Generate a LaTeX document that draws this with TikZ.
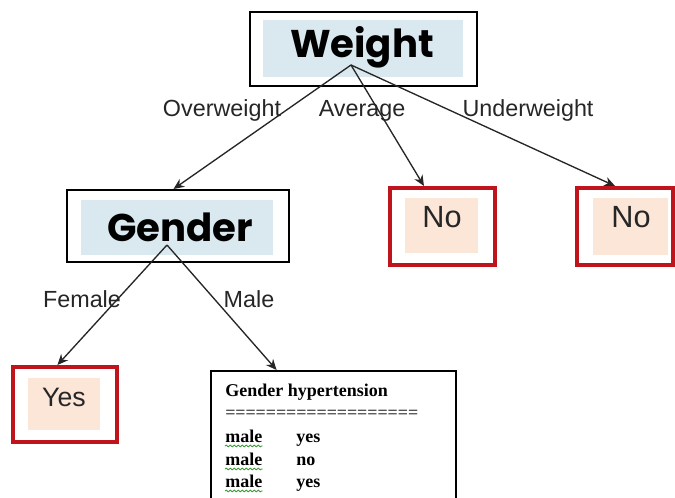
\documentclass[tikz,border=0pt]{standalone}
\usepackage{fontspec}
\setmainfont{Liberation Sans}
\newfontfamily\titlefont{Poppins}
\newfontfamily\tablefont{Liberation Serif}
\usetikzlibrary{arrows.meta,calc,decorations.pathmorphing}

\definecolor{boxblue}{HTML}{DAE9F0}
\definecolor{boxpeach}{HTML}{FBE6D8}
\definecolor{leafred}{HTML}{C0141C}
\definecolor{squiggle}{HTML}{3C9A3C}

\tikzset{
  frame/.style={draw=black, line width=1.5pt, fill=white, inner sep=0pt},
  leafframe/.style={draw=leafred, line width=3pt, fill=white, inner sep=0pt},
  bluefill/.style={fill=boxblue, inner sep=0pt},
  peachfill/.style={fill=boxpeach, inner sep=0pt},
  titletext/.style={font=\titlefont\bfseries\fontsize{29}{29}\selectfont, inner sep=0pt},
  leaftext/.style={font=\fontsize{23}{23}\selectfont, text=black!85, inner sep=0pt},
  edgelabel/.style={font=\fontsize{17.5}{17.5}\selectfont, text=black!85, inner sep=0pt},
  branch/.style={draw=black!85, line width=1pt, -{Stealth[length=8pt,width=7pt]}},
  tabletext/.style={font=\tablefont\fontsize{13.5}{13.5}\selectfont, inner sep=0pt, anchor=base west},
  wavy/.style={draw=squiggle, line width=0.7pt, decorate,
               decoration={snake, amplitude=0.6pt, segment length=3pt}}
}

\begin{document}
\begin{tikzpicture}[x=0.75pt, y=-0.75pt]
  \useasboundingbox (0,0) rectangle (675,498);
  \clip (0,0) rectangle (675,498);
  \fill[white] (0,0) rectangle (675,498);

  % root: Weight
  \node[frame, minimum width=227*0.75pt, minimum height=74*0.75pt] (weight) at (363.5,49) {};
  \node[bluefill, minimum width=200*0.75pt, minimum height=57*0.75pt] (weightin) at (363,48.5) {};
  \node[titletext, anchor=base] (weighttxt) at (362,58) {Weight};
  \coordinate (wapex) at (351,65);

  % second level: Gender
  \node[frame, minimum width=222*0.75pt, minimum height=72*0.75pt] (gender) at (178,226) {};
  \node[bluefill, minimum width=192*0.75pt, minimum height=55*0.75pt] (genderin) at (177,227.5) {};
  \node[titletext, anchor=base] (gendertxt) at (180,242) {Gender};
  \coordinate (gapex) at (167,245);

  % leaves: No / No
  \node[leafframe, minimum width=105*0.75pt, minimum height=77*0.75pt] (no1) at (442.5,226.5) {};
  \node[peachfill, minimum width=73*0.75pt, minimum height=55*0.75pt] (no1in) at (441.5,225.5) {};
  \node[leaftext, anchor=base] (no1txt) at (442,228) {No};

  \node[leafframe, minimum width=96*0.75pt, minimum height=77*0.75pt] (no2) at (625,226.5) {};
  \node[peachfill, minimum width=75*0.75pt, minimum height=57*0.75pt] (no2in) at (630.5,226.5) {};
  \node[leaftext, anchor=base] (no2txt) at (631,228) {No};

  % leaf: Yes
  \node[leafframe, minimum width=104*0.75pt, minimum height=75*0.75pt] (yes) at (65,404.5) {};
  \node[peachfill, minimum width=72*0.75pt, minimum height=52*0.75pt] (yesin) at (64,404) {};
  \node[leaftext, anchor=base, font=\fontsize{20}{20}\selectfont] (yestxt) at (64,407) {Yes};

  % leaf: data table for male
  \node[frame, line width=1.2pt, minimum width=245*0.75pt, minimum height=200*0.75pt, anchor=north west] (table) at (210,370) {};
  \node[tabletext, font=\tablefont\bfseries\fontsize{13.5}{13.5}\selectfont] (thead) at (225,397) {Gender hypertension};
  \node[tabletext] (trule) at (225,419) {===================};
  \node[tabletext] (m1) at (225,443) {\textbf{male}};
  \node[tabletext] (v1) at (296,443) {\textbf{yes}};
  \node[tabletext] (m2) at (225,466) {\textbf{male}};
  \node[tabletext] (v2) at (296,466) {\textbf{no}};
  \node[tabletext] (m3) at (225,488) {\textbf{male}};
  \node[tabletext] (v3) at (296,488) {\textbf{yes}};
  \foreach \m in {m1,m2,m3}
    \draw[wavy] ($(\m.base west)+(0,3)$) -- ($(\m.base east)+(0,3)$);

  % branches from Weight
  \draw[branch] (wapex) -- ($(gender.north west)!0.48!(gender.north east)$);
  \draw[branch] (wapex) -- ($(no1.north west)!0.33!(no1.north east)$);
  \draw[branch] (wapex) -- ($(no2.north west)!0.4!(no2.north east)$);

  % branches from Gender
  \draw[branch] (gapex) -- ($(yes.north west)!0.43!(yes.north east)$);
  \draw[branch] (gapex) -- ($(table.north west)!0.27!(table.north east)$);

  % branch labels
  \node[edgelabel, anchor=base] (lover) at (222,117) {Overweight};
  \node[edgelabel, anchor=base] (lavg) at (362,117) {Average};
  \node[edgelabel, anchor=base] (lunder) at (528,117) {Underweight};
  \node[edgelabel, anchor=base] (lfem) at (82,308) {Female};
  \node[edgelabel, anchor=base] (lmale) at (249,308) {Male};
\end{tikzpicture}
\end{document}
